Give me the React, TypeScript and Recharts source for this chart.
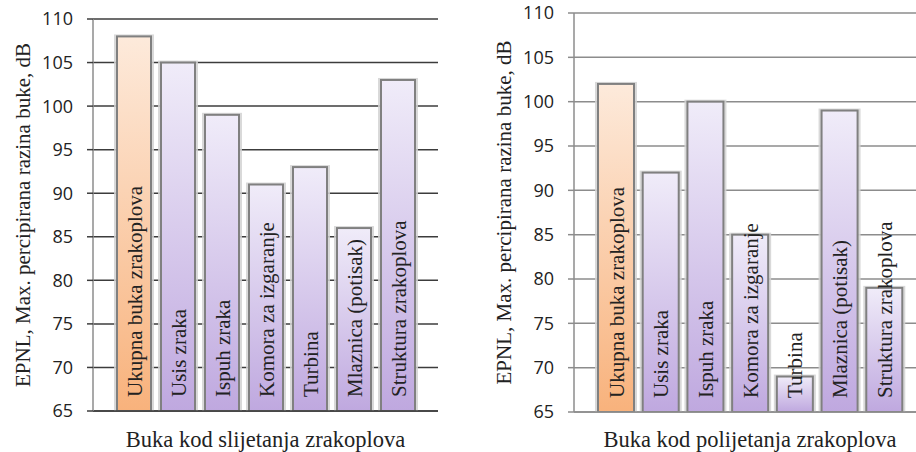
import { BarChart, Bar, XAxis, YAxis, CartesianGrid, LabelList, Label } from 'recharts';

const categories = [
  'Ukupna buka zrakoplova',
  'Usis zraka',
  'Ispuh zraka',
  'Komora za izgaranje',
  'Turbina',
  'Mlaznica (potisak)',
  'Struktura zrakoplova',
];
const landingValues = [108, 105, 99, 91, 93, 86, 103];
const takeoffValues = [102, 92, 100, 85, 69, 99, 79];
const yTicks = [65, 70, 75, 80, 85, 90, 95, 100, 105, 110];

const yTitle = 'EPNL, Max. percipirana razina buke, dB';
const landingTitle = 'Buka kod slijetanja zrakoplova';
const takeoffTitle = 'Buka kod polijetanja zrakoplova';

const landingData = categories.map((name, i) => ({ name, value: landingValues[i] }));
const takeoffData = categories.map((name, i) => ({ name, value: takeoffValues[i] }));

const SERIF = '"Liberation Serif", "Times New Roman", serif';
const SANS = '"Open Sans", sans-serif';

const BarShape = (props: any) => {
  const { x, y, width, height, index } = props;
  const fill = index === 0 ? 'url(#gradOrange)' : 'url(#gradPurple)';
  return (
    <g>
      <rect x={x - 3} y={y - 2} width={width + 6} height={height + 2} fill="#d2d2d2" opacity={0.85} />
      <rect x={x} y={y} width={width} height={height} fill={fill} stroke="#808080" strokeWidth={2} />
    </g>
  );
};

const BarText = (props: any) => {
  const { x, y, width, height, value } = props;
  const cx = x + width / 2;
  const by = y + height - 14;
  return (
    <text
      x={cx}
      y={by}
      dy="0.36em"
      transform={`rotate(-90 ${cx} ${by})`}
      textAnchor="start"
      style={{ fontFamily: SERIF, fontSize: 21, fill: '#222' }}
    >
      {value}
    </text>
  );
};

const Defs = () => (
  <defs>
    <linearGradient id="gradOrange" x1="0" y1="0" x2="0" y2="1">
      <stop offset="0%" stopColor="#fdeadb" />
      <stop offset="100%" stopColor="#f8b27c" />
    </linearGradient>
    <linearGradient id="gradPurple" x1="0" y1="0" x2="0" y2="1">
      <stop offset="0%" stopColor="#f0ecf9" />
      <stop offset="100%" stopColor="#bfa8df" />
    </linearGradient>
  </defs>
);

const Panel = ({ data, title, left, width, axisWidth, barSize, pad, gridColor, yLabelX, titleDx, top, bottom }: any) => (
  <div style={{ position: 'absolute', left, top: 0 }}>
    <BarChart width={width} height={452} data={data} margin={{ top, right: 0, left: 0, bottom: 0 }} barSize={barSize}>
      <Defs />
      <CartesianGrid horizontal vertical={false} stroke={gridColor} strokeWidth={1.5} />
      <XAxis
        dataKey="name"
        tick={false}
        tickLine={false}
        axisLine={{ stroke: gridColor, strokeWidth: 1.5 }}
        height={bottom}
        padding={pad}
      >
        <Label
          content={(p: any) => {
            const vb = p.viewBox;
            return (
              <text
                x={vb.x + vb.width / 2 + titleDx}
                y={447}
                textAnchor="middle"
                style={{ fontFamily: SERIF, fontSize: 22.5, fill: '#222' }}
              >
                {title}
              </text>
            );
          }}
        />
      </XAxis>
      <YAxis
        domain={[65, 110]}
        ticks={yTicks}
        width={axisWidth}
        tickSize={6}
        tickMargin={14}
        tickLine={{ stroke: gridColor, strokeWidth: 1.5 }}
        axisLine={{ stroke: '#8c8c8c', strokeWidth: 1.5 }}
        tick={{ fontFamily: SANS, fontSize: 18, fill: '#222' }}
        allowDataOverflow
      >
        <Label
          content={(p: any) => {
            const vb = p.viewBox;
            const cx = vb.x + yLabelX;
            const cy = vb.y + vb.height / 2;
            return (
              <text
                x={cx}
                y={cy}
                dy="0.36em"
                transform={`rotate(-90 ${cx} ${cy})`}
                textAnchor="middle"
                style={{ fontFamily: SERIF, fontSize: 21, fill: '#222' }}
              >
                {yTitle}
              </text>
            );
          }}
        />
      </YAxis>
      <Bar dataKey="value" shape={<BarShape />} isAnimationActive={false}>
        <LabelList dataKey="name" content={<BarText />} />
      </Bar>
    </BarChart>
  </div>
);

export default function App() {
  return (
    <div style={{ position: 'absolute', left: 0, top: 0, width: 916, height: 452, background: '#fff', overflow: 'hidden' }}>
      <Panel
        data={landingData}
        title={landingTitle}
        left={0}
        width={438}
        axisWidth={93}
        barSize={34}
        pad={{ left: 19, right: 18 }}
        gridColor="#3c3c3c"
        yLabelX={22}
        titleDx={0}
        top={19}
        bottom={41}
      />
      <Panel
        data={takeoffData}
        title={takeoffTitle}
        left={460}
        width={456}
        axisWidth={114}
        barSize={36}
        pad={{ left: 20, right: 9 }}
        gridColor="#8c8c8c"
        yLabelX={43}
        titleDx={5}
        top={13}
        bottom={40}
      />
    </div>
  );
}
